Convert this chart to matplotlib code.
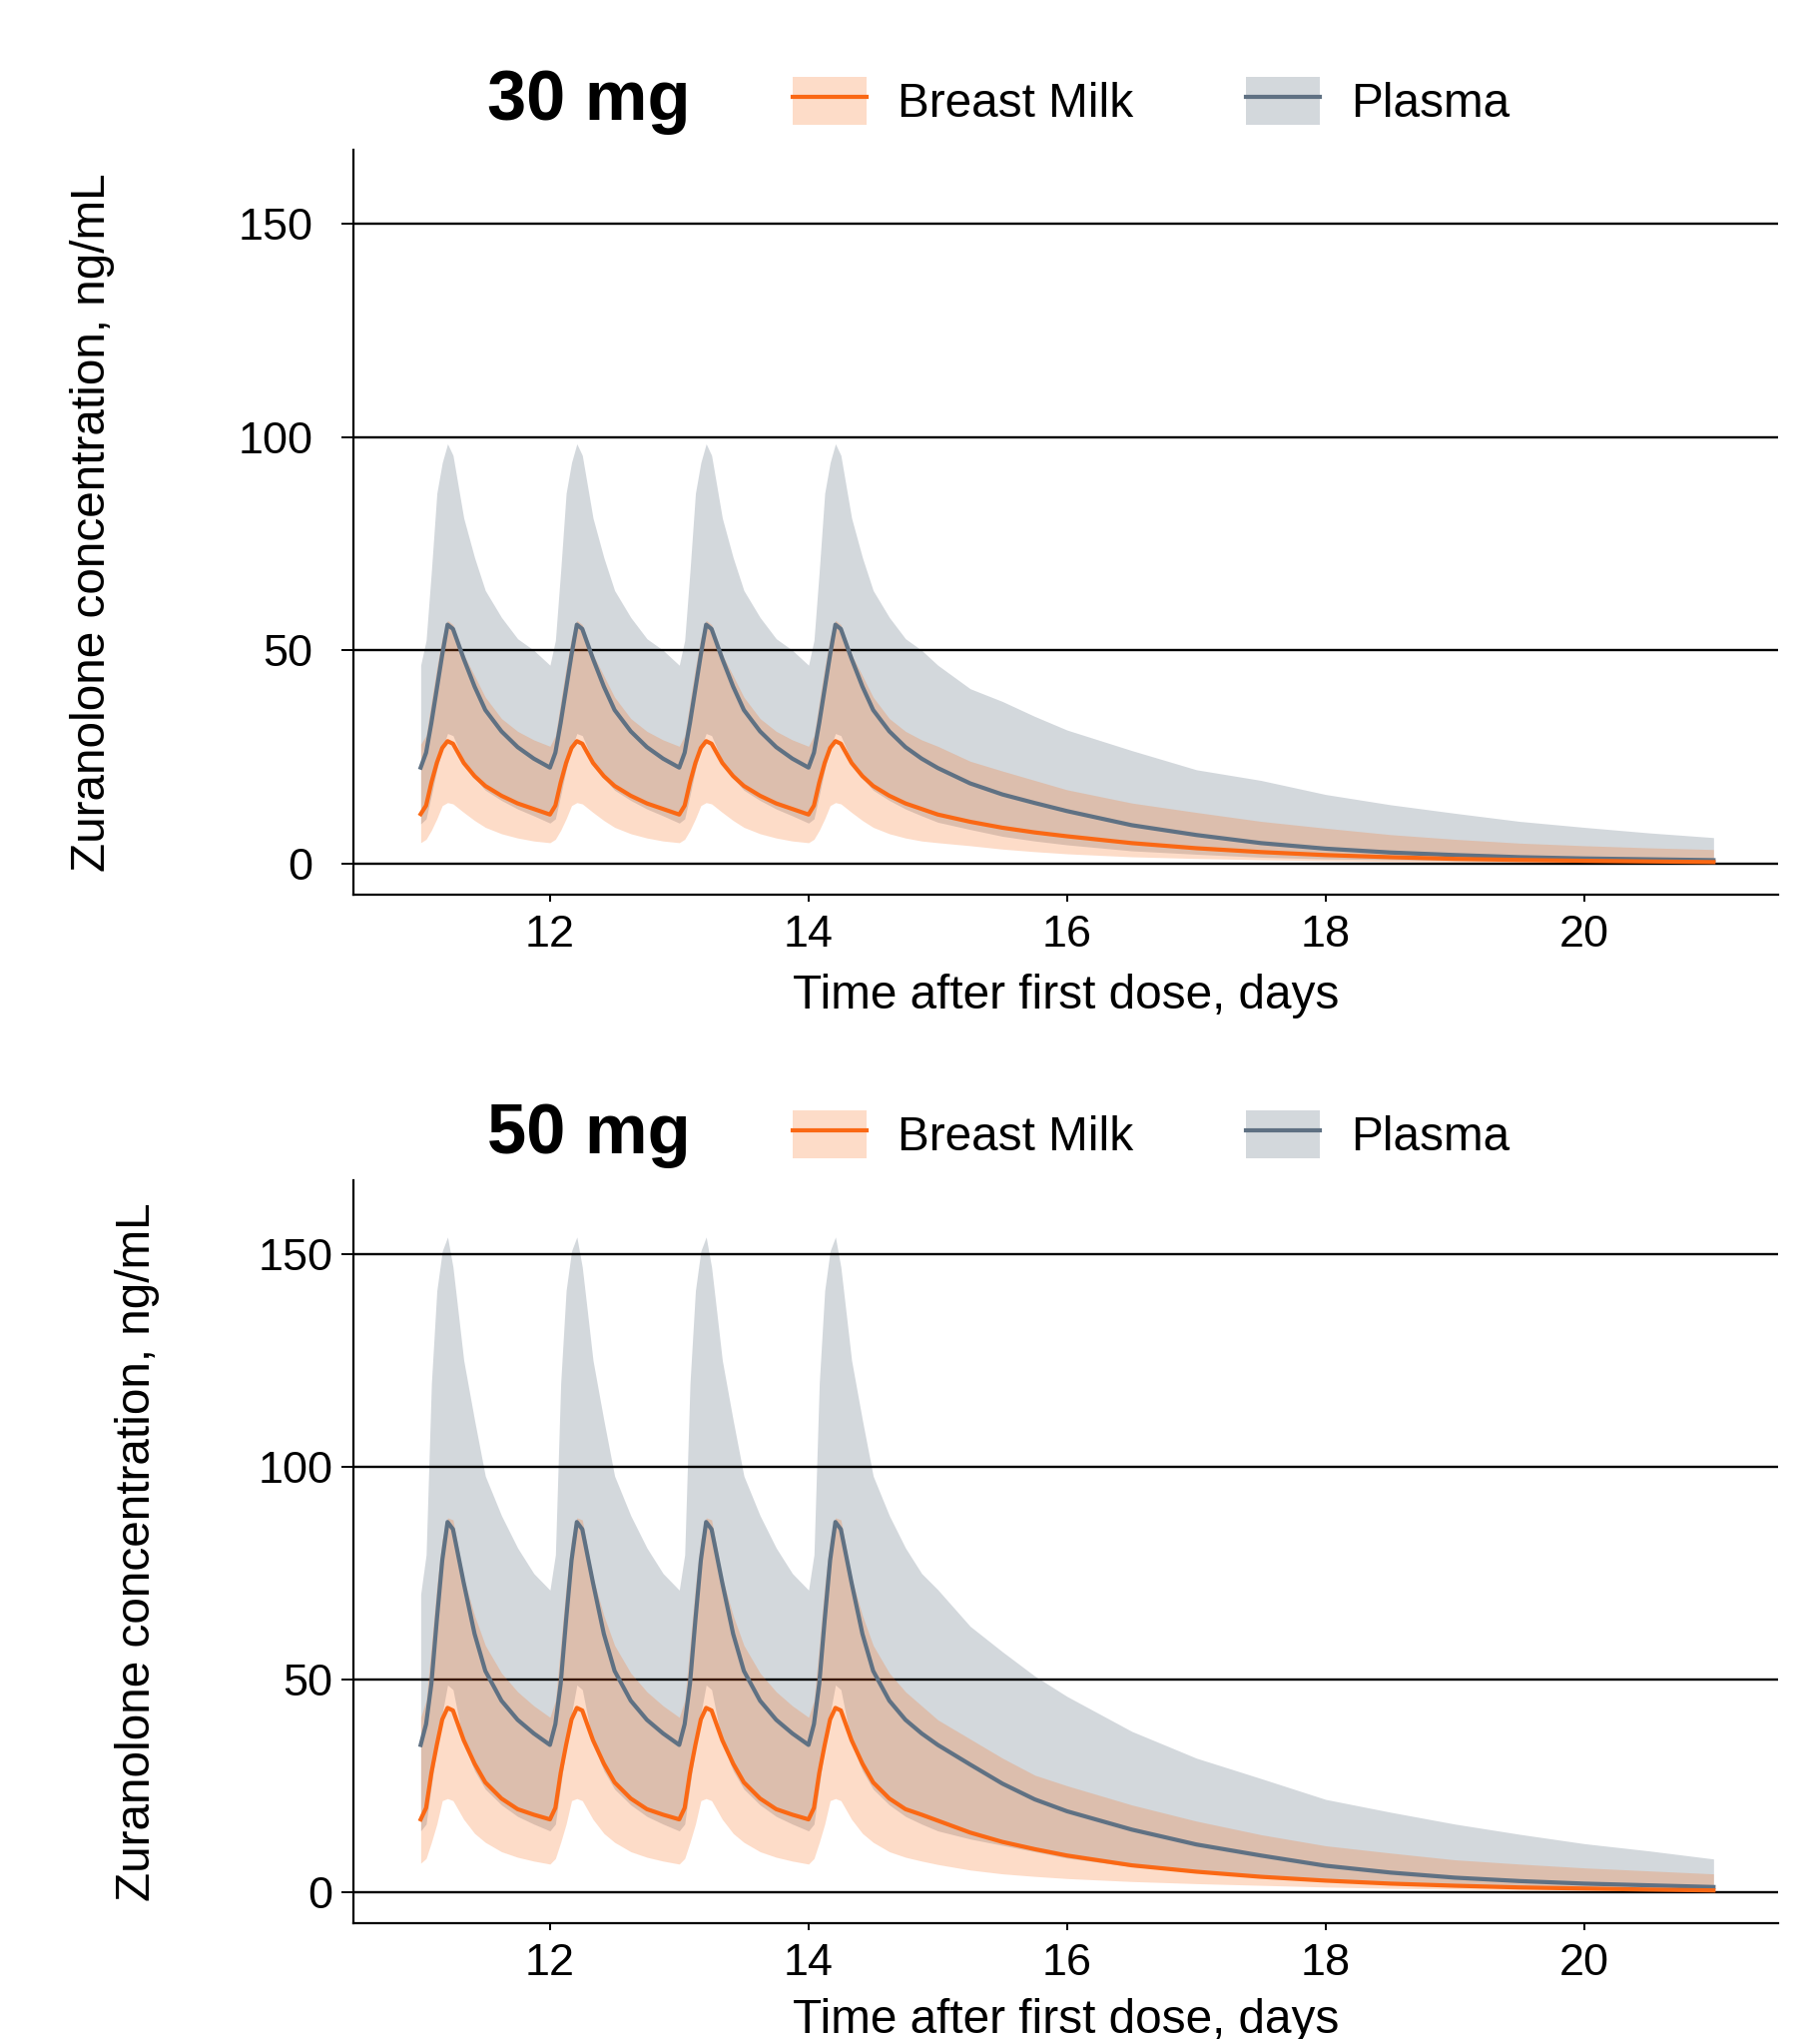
import matplotlib
matplotlib.use("Agg")
import matplotlib.pyplot as plt
from matplotlib.patches import Patch
from matplotlib.lines import Line2D
from matplotlib.legend_handler import HandlerTuple

plt.rcParams['font.family'] = ['Liberation Sans', 'DejaVu Sans']

# time after first dose (days): hourly-ish inside each dosing interval, coarser after last dose
times = [
    11.0, 11.042, 11.083, 11.125, 11.167, 11.208, 11.25, 11.333, 11.417, 11.5, 11.625, 11.75, 11.875,
    12.0, 12.042, 12.083, 12.125, 12.167, 12.208, 12.25, 12.333, 12.417, 12.5, 12.625, 12.75, 12.875,
    13.0, 13.042, 13.083, 13.125, 13.167, 13.208, 13.25, 13.333, 13.417, 13.5, 13.625, 13.75, 13.875,
    14.0, 14.042, 14.083, 14.125, 14.167, 14.208, 14.25, 14.333, 14.417, 14.5, 14.625, 14.75, 14.875,
    15.0, 15.25, 15.5, 15.75, 16.0, 16.5, 17.0, 17.5, 18.0, 18.5, 19.0, 19.5, 20.0, 20.5, 21.0,
]

# ---- 30 mg ----
plasma_med_30 = [
    22.5, 26, 33, 41, 49, 56, 55, 48, 41.5, 36, 31, 27.3, 24.6,
    22.5, 26, 33, 41, 49, 56, 55, 48, 41.5, 36, 31, 27.3, 24.6,
    22.5, 26, 33, 41, 49, 56, 55, 48, 41.5, 36, 31, 27.3, 24.6,
    22.5, 26, 33, 41, 49, 56, 55, 48, 41.5, 36, 31, 27.3, 24.6,
    22.4, 18.8, 16.2, 14.2, 12.3, 9.0, 6.7, 4.8, 3.5, 2.6, 2.0, 1.5, 1.2, 1.0, 0.8,
]
plasma_hi_30 = [
    46.5, 52.3, 68.6, 86.8, 94, 98.4, 95.7, 81, 71.7, 64, 57.7, 52.7, 50,
    46.5, 52.3, 68.6, 86.8, 94, 98.4, 95.7, 81, 71.7, 64, 57.7, 52.7, 50,
    46.5, 52.3, 68.6, 86.8, 94, 98.4, 95.7, 81, 71.7, 64, 57.7, 52.7, 50,
    46.5, 52.3, 68.6, 86.8, 94, 98.4, 95.7, 81, 71.7, 64, 57.7, 52.7, 50,
    46.5, 41, 38, 34.5, 31.3, 26.5, 22, 19.5, 16.2, 13.8, 11.8, 9.9, 8.5, 7.2, 6.1,
]
plasma_lo_30 = [
    9.3, 10.5, 16, 22, 27, 30.5, 30, 24, 20, 17.2, 14.8, 12.8, 11.2,
    9.5, 10.5, 16, 22, 27, 30.5, 30, 24, 20, 17.2, 14.8, 12.8, 11.2,
    9.5, 10.5, 16, 22, 27, 30.5, 30, 24, 20, 17.2, 14.8, 12.8, 11.2,
    9.5, 10.5, 16, 22, 27, 30.5, 30, 24, 20, 17.2, 14.8, 12.8, 11.2,
    9.7, 8.0, 6.4, 5.3, 4.4, 3.0, 2.2, 1.5, 1.1, 0.9, 0.7, 0.6, 0.5, 0.45, 0.4,
]
milk_med_30 = [
    11.6, 13.6, 19, 23.6, 27.1, 28.7, 28.1, 23.6, 20.5, 18.2, 15.9, 14.1, 12.8,
    11.5, 13.6, 19, 23.6, 27.1, 28.7, 28.1, 23.6, 20.5, 18.2, 15.9, 14.1, 12.8,
    11.5, 13.6, 19, 23.6, 27.1, 28.7, 28.1, 23.6, 20.5, 18.2, 15.9, 14.1, 12.8,
    11.5, 13.6, 19, 23.6, 27.1, 28.7, 28.1, 23.6, 20.5, 18.2, 15.9, 14.1, 12.8,
    11.5, 9.8, 8.4, 7.3, 6.4, 4.8, 3.6, 2.7, 2.0, 1.5, 1.1, 0.85, 0.65, 0.5, 0.35,
]
milk_hi_30 = [
    28, 30, 38, 46, 53, 57, 56, 49, 44, 39, 34, 31, 29,
    27.5, 30, 38, 46, 53, 57, 56, 49, 44, 39, 34, 31, 29,
    27.5, 30, 38, 46, 53, 57, 56, 49, 44, 39, 34, 31, 29,
    27.5, 30, 38, 46, 53, 57, 56, 49, 44, 39, 34, 31, 29,
    27.5, 24, 21.7, 19.5, 17.3, 14.2, 12, 9.9, 8.3, 6.8, 5.7, 4.8, 4.2, 3.7, 3.3,
]
milk_lo_30 = [
    4.9, 5.7, 7.8, 10.5, 13.6, 14.3, 14, 12, 10.1, 8.5, 7, 6, 5.3,
    4.9, 5.7, 7.8, 10.5, 13.6, 14.3, 14, 12, 10.1, 8.5, 7, 6, 5.3,
    4.9, 5.7, 7.8, 10.5, 13.6, 14.3, 14, 12, 10.1, 8.5, 7, 6, 5.3,
    4.9, 5.7, 7.8, 10.5, 13.6, 14.3, 14, 12, 10.1, 8.5, 7, 6, 5.3,
    4.9, 4.2, 3.4, 2.8, 2.3, 1.6, 1.2, 0.9, 0.7, 0.5, 0.4, 0.3, 0.25, 0.2, 0.1,
]

# ---- 50 mg ----
plasma_med_50 = [
    34.6, 39.5, 49, 64, 78, 87, 85.3, 72.7, 60.7, 52, 45, 40.5, 37.3,
    34.6, 39.5, 49, 64, 78, 87, 85.3, 72.7, 60.7, 52, 45, 40.5, 37.3,
    34.6, 39.5, 49, 64, 78, 87, 85.3, 72.7, 60.7, 52, 45, 40.5, 37.3,
    34.6, 39.5, 49, 64, 78, 87, 85.3, 72.7, 60.7, 52, 45, 40.5, 37.3,
    34.6, 30, 25.5, 21.8, 19, 14.7, 11.2, 8.6, 6.2, 4.6, 3.4, 2.6, 2.0, 1.6, 1.2,
]
plasma_hi_50 = [
    70, 79.3, 119.6, 141.4, 150.7, 154, 146.9, 125, 110.9, 97.8, 88.5, 80.9, 74.9,
    71, 79.3, 119.6, 141.4, 150.7, 154, 146.9, 125, 110.9, 97.8, 88.5, 80.9, 74.9,
    71, 79.3, 119.6, 141.4, 150.7, 154, 146.9, 125, 110.9, 97.8, 88.5, 80.9, 74.9,
    71, 79.3, 119.6, 141.4, 150.7, 154, 146.9, 125, 110.9, 97.8, 88.5, 80.9, 74.9,
    71.1, 62.5, 56.5, 50.8, 46, 37.8, 31.5, 26.7, 21.8, 18.8, 16, 13.6, 11.4, 9.7, 7.8,
]
plasma_lo_50 = [
    14.4, 16, 25, 34, 42, 48.7, 47.6, 35, 28.5, 24.2, 20.5, 17.8, 16,
    14.4, 16, 25, 34, 42, 48.7, 47.6, 35, 28.5, 24.2, 20.5, 17.8, 16,
    14.4, 16, 25, 34, 42, 48.7, 47.6, 35, 28.5, 24.2, 20.5, 17.8, 16,
    14.4, 16, 25, 34, 42, 48.7, 47.6, 35, 28.5, 24.2, 20.5, 17.8, 16,
    14.4, 12.5, 11, 9.5, 8, 6, 4.7, 3.6, 2.7, 2.1, 1.6, 1.2, 0.95, 0.75, 0.6,
]
milk_med_50 = [
    17.1, 19.8, 28, 34.6, 40.6, 43.3, 42.7, 35.7, 30.2, 25.8, 22, 19.5, 18.2,
    17.1, 19.8, 28, 34.6, 40.6, 43.3, 42.7, 35.7, 30.2, 25.8, 22, 19.5, 18.2,
    17.1, 19.8, 28, 34.6, 40.6, 43.3, 42.7, 35.7, 30.2, 25.8, 22, 19.5, 18.2,
    17.1, 19.8, 28, 34.6, 40.6, 43.3, 42.7, 35.7, 30.2, 25.8, 22, 19.5, 18.2,
    16.8, 14, 11.8, 10.1, 8.6, 6.3, 4.8, 3.6, 2.7, 2.0, 1.5, 1.1, 0.85, 0.6, 0.4,
]
milk_hi_50 = [
    41.1, 45, 58, 72, 83, 88, 87.5, 73.8, 65, 58, 51.5, 47.1, 43.8,
    41.1, 45, 58, 72, 83, 88, 87.5, 73.8, 65, 58, 51.5, 47.1, 43.8,
    41.1, 45, 58, 72, 83, 88, 87.5, 73.8, 65, 58, 51.5, 47.1, 43.8,
    41.1, 45, 58, 72, 83, 88, 87.5, 73.8, 65, 58, 51.5, 47.1, 43.8,
    40.5, 36, 31.5, 27.5, 25, 20.5, 16.7, 13.5, 10.9, 9.2, 7.6, 6.6, 5.7, 5.0, 4.3,
]
milk_lo_50 = [
    6.8, 7.9, 11.7, 16, 21.5, 22, 21.5, 17.1, 13.8, 11.7, 9.5, 8.2, 7.3,
    6.6, 7.9, 11.7, 16, 21.5, 22, 21.5, 17.1, 13.8, 11.7, 9.5, 8.2, 7.3,
    6.6, 7.9, 11.7, 16, 21.5, 22, 21.5, 17.1, 13.8, 11.7, 9.5, 8.2, 7.3,
    6.6, 7.9, 11.7, 16, 21.5, 22, 21.5, 17.1, 13.8, 11.7, 9.5, 8.2, 7.3,
    6.5, 5.2, 4.3, 3.7, 3.2, 2.5, 2.0, 1.6, 1.2, 0.9, 0.7, 0.55, 0.45, 0.35, 0.3,
]

dose_labels = ['30 mg', '50 mg']
series_labels = ['Breast Milk', 'Plasma']
x_ticks = [12, 14, 16, 18, 20]
y_ticks = [0, 50, 100, 150]

MILK = '#fa6814'
PLASMA = '#5f7183'
MILK_ALPHA = 0.23
PLASMA_ALPHA = 0.275
LINE_W = 1.5

fig = plt.figure(figsize=(9.115, 10.21), dpi=200)
ax_top = fig.add_axes([0.1942, 0.5612, 0.7828, 0.3653])
ax_bot = fig.add_axes([0.1942, 0.0568, 0.7828, 0.3643])


def draw_panel(ax, p_med, p_lo, p_hi, m_med, m_lo, m_hi, ytick_pad, ylabel_x, xlabel_y):
    ax.fill_between(times, p_lo, p_hi, color=PLASMA, alpha=PLASMA_ALPHA, lw=0, zorder=1)
    ax.fill_between(times, m_lo, m_hi, color=MILK, alpha=MILK_ALPHA, lw=0, zorder=2)
    ax.plot(times, p_med, color=PLASMA, lw=LINE_W, zorder=3)
    ax.plot(times, m_med, color=MILK, lw=LINE_W, zorder=3)

    ax.set_xlim(10.48, 21.5)
    ax.set_ylim(-7.3, 167.3)
    ax.set_xticks(x_ticks)
    ax.set_yticks(y_ticks)
    ax.set_axisbelow('line')
    ax.yaxis.grid(True, color='black', lw=0.85)

    for side in ['top', 'right']:
        ax.spines[side].set_visible(False)
    for side in ['left', 'bottom']:
        ax.spines[side].set_linewidth(0.8)

    ax.tick_params(axis='y', length=4.2, width=0.7, pad=ytick_pad, labelsize=16.2)
    ax.tick_params(axis='x', length=2.5, width=0.7, pad=4.7, labelsize=16.2)

    ax.set_xlabel('Time after first dose, days', fontsize=17.2)
    ax.xaxis.label.set_va('center')
    ax.xaxis.set_label_coords(0.5, xlabel_y)
    ax.set_ylabel('Zuranolone concentration, ng/mL', fontsize=17.2)
    ax.yaxis.label.set_va('center')
    ax.yaxis.set_label_coords(ylabel_x, 0.5)


draw_panel(ax_top, plasma_med_30, plasma_lo_30, plasma_hi_30,
           milk_med_30, milk_lo_30, milk_hi_30, 10.5, -0.183, -0.136)
draw_panel(ax_bot, plasma_med_50, plasma_lo_50, plasma_hi_50,
           milk_med_50, milk_lo_50, milk_hi_50, 3.3, -0.152, -0.131)

# dose titles and legends sit above each panel
handles = [
    (Patch(facecolor=MILK, alpha=MILK_ALPHA, lw=0), Line2D([], [], color=MILK, lw=LINE_W)),
    (Patch(facecolor=PLASMA, alpha=PLASMA_ALPHA, lw=0), Line2D([], [], color=PLASMA, lw=LINE_W)),
]
for ax, label, ty in [(ax_top, dose_labels[0], 0.950), (ax_bot, dose_labels[1], 0.443)]:
    fig.text(0.3236, ty, label, ha='center', va='center', fontsize=25.4, fontweight='bold')
    ax.legend(handles, series_labels, handler_map={tuple: HandlerTuple(ndivide=1)},
              loc='center left', bbox_to_anchor=(0.4355, ty), bbox_transform=fig.transFigure,
              ncol=2, frameon=False, fontsize=17.2, handlelength=1.55, handleheight=1.15,
              handletextpad=0.65, columnspacing=2.35, borderpad=0, borderaxespad=0)

fig.savefig('out.png', dpi=200)
